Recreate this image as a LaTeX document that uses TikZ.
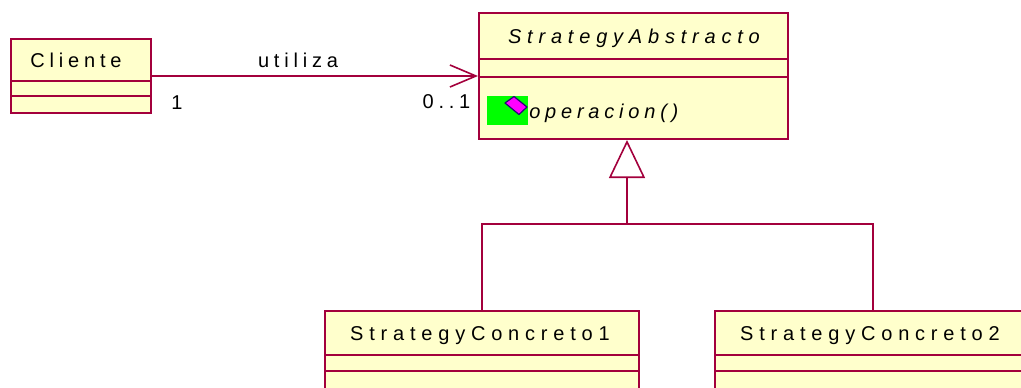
\documentclass[tikz,border=0pt]{standalone}
\usepackage{fontspec}
\usepackage{xcolor}
\usepackage{tikz}
\usetikzlibrary{arrows.meta}
\setmainfont{Liberation Sans}
\newfontfamily\umlfont[LetterSpace=24]{Liberation Sans}
\newfontfamily\umlwidefont[LetterSpace=29]{Liberation Sans}
\definecolor{umlrose}{RGB}{163,0,60}
\definecolor{umlcream}{RGB}{255,255,204}
\definecolor{umlgreen}{RGB}{0,255,0}
\definecolor{umlmagenta}{RGB}{255,0,255}
\definecolor{umlblue}{RGB}{40,0,120}
\tikzset{
  classbox/.style={draw=umlrose,fill=umlcream,line width=1.5pt,inner sep=0pt},
  compline/.style={draw=umlrose,line width=1.5pt},
  assocline/.style={draw=umlrose,line width=1.2pt},
  umltext/.style={text=black,inner sep=0pt,font=\umlfont\fontsize{15}{18}\selectfont},
  umlwide/.style={text=black,inner sep=0pt,font=\umlwidefont\fontsize{15}{18}\selectfont},
  umlitalic/.style={umltext,font=\umlfont\itshape\fontsize{15}{18}\selectfont},
  umlwideitalic/.style={umltext,font=\umlwidefont\itshape\fontsize{15}{18}\selectfont},
}
\begin{document}
\begin{tikzpicture}[x=0.75pt,y=0.75pt,yscale=-1,xscale=1]
\path[use as bounding box,clip] (0,0) rectangle (1021,387);

%Class boxes
\node [classbox,minimum width=0.75pt*309,minimum height=0.75pt*126] (abstracto) at (633.5,76) {};
\node [classbox,minimum width=0.75pt*140,minimum height=0.75pt*74] (cliente) at (81,76) {};
\node [classbox,minimum width=0.75pt*314,minimum height=0.75pt*120] (concreto1) at (482,371) {};
\node [classbox,minimum width=0.75pt*316,minimum height=0.75pt*120] (concreto2) at (873,371) {};

%Compartment lines
\draw [compline] (abstracto.west |- 0,59) -- (abstracto.east |- 0,59);
\draw [compline] (abstracto.west |- 0,77) -- (abstracto.east |- 0,77);
\draw [compline] (cliente.west |- 0,81) -- (cliente.east |- 0,81);
\draw [compline] (cliente.west |- 0,96) -- (cliente.east |- 0,96);
\draw [compline] (concreto1.west |- 0,355) -- (concreto1.east |- 0,355);
\draw [compline] (concreto1.west |- 0,371) -- (concreto1.east |- 0,371);
\draw [compline] (concreto2.west |- 0,355) -- (concreto2.east |- 0,355);
\draw [compline] (concreto2.west |- 0,371) -- (concreto2.east |- 0,371);

%Straight Lines
\draw [assocline,-{Straight Barb[length=19.5pt,width=16.5pt,line width=1.2pt]}] (cliente) -- (abstracto);
\coordinate (join) at (627,224);
\draw [assocline] (concreto1.north) |- (join);
\draw [assocline] (concreto2.north) |- (join);
\draw [assocline,-{Triangle[open,fill=white,length=28.5pt,width=27pt,line width=1.2pt]}] (join) -- (join |- abstracto.south);

%Method icon
\fill [umlgreen] (487,96) rectangle (528,125);
\draw [fill=umlmagenta,draw=umlblue,line width=0.9pt,line join=round] (505,103) -- (514,96.5) -- (527,107) -- (519,114.5) -- cycle;

% Text Node
\node [umlwideitalic] (abstractolabel) at (634,38.5) {StrategyAbstracto};
\node [umlitalic,anchor=west] (operacionlabel) at (529,113) {operacion()};
\node [umltext] (clientelabel) at (76,60.5) {Cliente};
\node [umlwide] (concreto1label) at (480,335.5) {StrategyConcreto1};
\node [umlwide] (concreto2label) at (870,335.5) {StrategyConcreto2};
\node [umltext] (utilizalabel) at (298,60.5) {utiliza};
\node [umltext] (sourcelabel) at (177,102.5) {1};
\node [umltext] (targetlabel) at (446.5,101.5) {0..1};
\end{tikzpicture}
\end{document}
